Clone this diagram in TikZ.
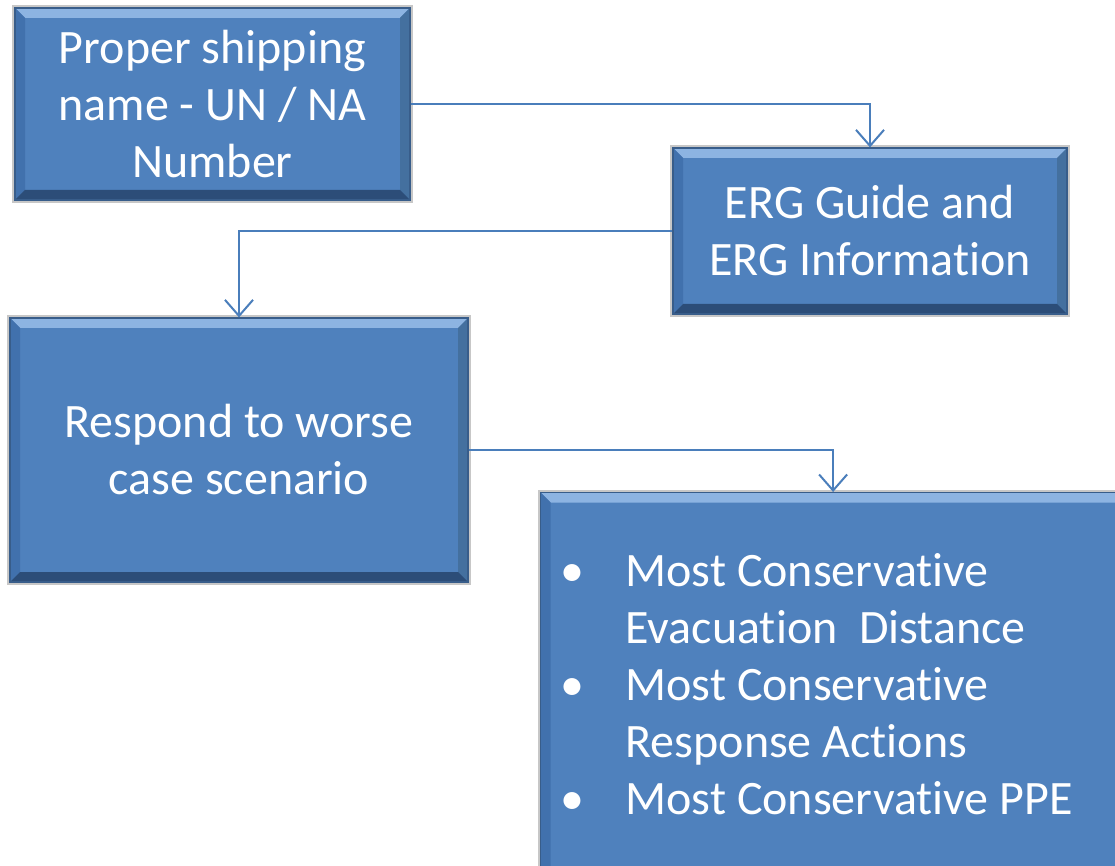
\documentclass[tikz,border=0pt]{standalone}
\usepackage{fontspec}
\setmainfont{Carlito}[Ligatures=NoCommon]
\usepackage{tikz}
\usetikzlibrary{arrows.meta}

\definecolor{boxfill}{HTML}{4F81BD}
\definecolor{boxedge}{HTML}{385D8A}
\definecolor{bevtop}{HTML}{8DB4E2}
\definecolor{bevleft}{HTML}{4171AD}
\definecolor{bevright}{HTML}{44709F}
\definecolor{bevbottom}{HTML}{2C4D78}
\definecolor{linkblue}{HTML}{4A7EBB}

\tikzset{
  ergbox/.style={shape=rectangle,draw=boxedge,line width=0.6pt,fill=boxfill,text=white,
    inner sep=0pt,font=\fontsize{24}{28.5}\selectfont,
    preaction={draw=black!22,line width=3pt},
    path picture={
      \fill[bevtop] (path picture bounding box.north west) -- (path picture bounding box.north east)
        -- ([xshift=-5pt,yshift=-5pt]path picture bounding box.north east)
        -- ([xshift=5pt,yshift=-5pt]path picture bounding box.north west) -- cycle;
      \fill[bevleft] (path picture bounding box.north west) -- (path picture bounding box.south west)
        -- ([xshift=5pt,yshift=5pt]path picture bounding box.south west)
        -- ([xshift=5pt,yshift=-5pt]path picture bounding box.north west) -- cycle;
      \fill[bevright] (path picture bounding box.north east) -- (path picture bounding box.south east)
        -- ([xshift=-5pt,yshift=5pt]path picture bounding box.south east)
        -- ([xshift=-5pt,yshift=-5pt]path picture bounding box.north east) -- cycle;
      \fill[bevbottom] (path picture bounding box.south west) -- (path picture bounding box.south east)
        -- ([xshift=-5pt,yshift=5pt]path picture bounding box.south east)
        -- ([xshift=5pt,yshift=5pt]path picture bounding box.south west) -- cycle;
    }},
  link/.style={draw=linkblue,line width=1pt,-{Straight Barb[length=8pt,width=14pt]}}
}

\begin{document}
\begin{tikzpicture}[x=0.5pt,y=-0.5pt]
\useasboundingbox (0,0) rectangle (1115,866);
\clip (0,0) rectangle (1115,866);
\node(psn)[ergbox,align=center,minimum width=197.5pt,minimum height=96pt] at (212.5,104){Proper shipping\\ name - UN / NA\\ Number};
\node(erg)[ergbox,align=center,minimum width=197pt,minimum height=83pt] at (870,231){ERG Guide and\\ ERG Information};
\node(wcs)[ergbox,align=center,minimum width=229pt,minimum height=132pt] at (239,450){Respond to worse\\ case scenario};
\node(con)[ergbox,align=left,anchor=north west,text width=272.5pt,inner xsep=10pt,minimum width=292.5pt,minimum height=192pt] at (540,492){%
\spaceskip=0pt\relax
\makebox[32.5pt][l]{\textbullet}Most Conservative\\
\hspace*{32.5pt}Evacuation~~Distance\\
\makebox[32.5pt][l]{\textbullet}Most Conservative\\
\hspace*{32.5pt}Response Actions\\
\makebox[32.5pt][l]{\textbullet}Most Conservative PPE};
\draw[link] (psn.east) -| (erg.north);
\draw[link] (erg.west) -| (wcs.north);
\draw[link] (wcs.east) -| (con.north);
\end{tikzpicture}
\end{document}
